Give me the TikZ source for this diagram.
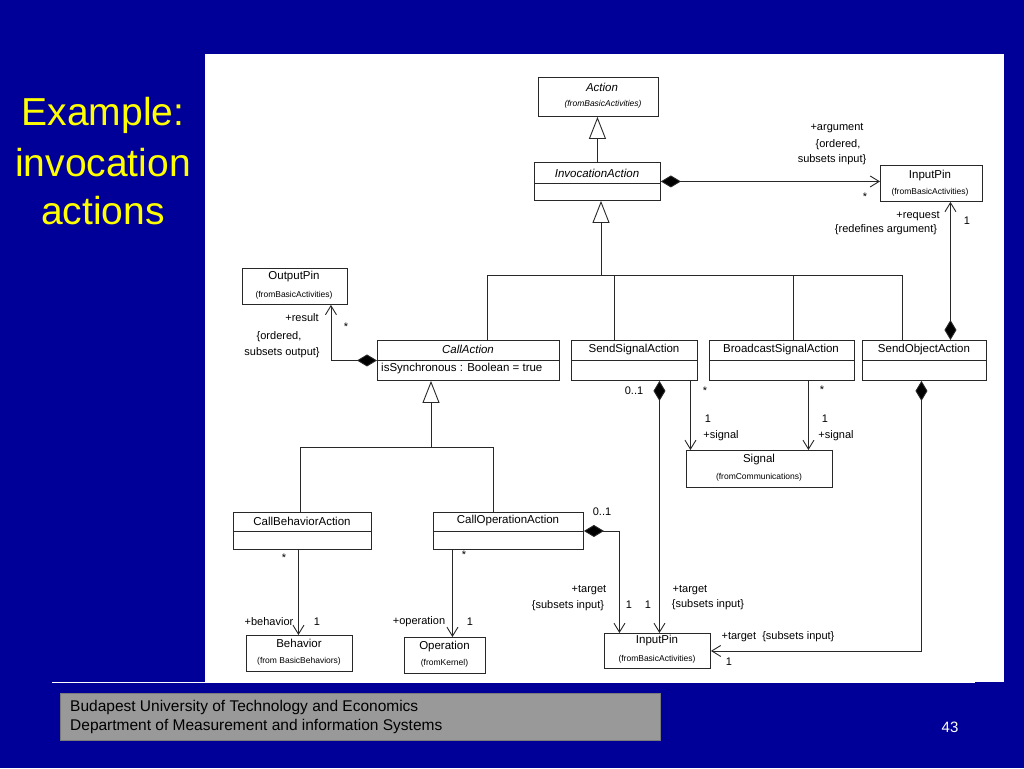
\documentclass[tikz,border=0pt]{standalone}
\usepackage{fontspec}
\setmainfont{Liberation Sans}
\usetikzlibrary{arrows.meta,calc}
\definecolor{slideblue}{RGB}{0,0,153}
\definecolor{titleyellow}{RGB}{255,255,0}
\definecolor{footgrey}{RGB}{153,153,153}
\definecolor{umlline}{RGB}{40,40,40}
\begin{document}
\begin{tikzpicture}[x=1pt,y=-1pt,
  box/.style={draw=umlline, line width=0.9pt, fill=white, inner sep=0pt, anchor=north west},
  conn/.style={draw=umlline, line width=0.9pt},
  gen/.style={conn, -{Triangle[open, length=22pt, width=17pt, fill=white]}},
  comp/.style={conn, {Diamond[length=20pt, width=12pt, fill=black]}-{Straight Barb[length=9pt, width=11pt]}},
  nav/.style={conn, -{Straight Barb[length=9pt, width=11pt]}},
  lbl/.style={inner sep=0pt, text=black, font=\fontsize{11}{13}\selectfont},
  cname/.style={inner sep=0pt, text=black, font=\fontsize{11.5}{13}\selectfont},
  iname/.style={inner sep=0pt, text=black, font=\fontsize{11.5}{13}\selectfont\itshape},
  small/.style={inner sep=0pt, text=black, font=\fontsize{8.5}{10}\selectfont},
  ismall/.style={inner sep=0pt, text=black, font=\fontsize{8.5}{10}\selectfont\itshape},
  title/.style={inner sep=0pt, text=titleyellow, font=\fontsize{39}{46}\selectfont},
  foot/.style={inner sep=0pt, text=black, anchor=west, font=\fontsize{15.5}{18}\selectfont}
]
\useasboundingbox (0,0) rectangle (1024,768);
\fill[slideblue] (0,0) rectangle (1024,768);
% diagram area
\fill[white] (205,54) rectangle (1004,682);
\draw[white, line width=1.5pt] (52,682.5) -- (975,682.5);

% title
\node[title] (t1) at (103,115) {Example:};
\node[title] (t2) at (103,163) {invocation};
\node[title] (t3) at (103,211) {actions};

% footer
\node[draw=footgrey!80!black, fill=footgrey, line width=0.6pt, anchor=north west, minimum width=600pt, minimum height=47pt, inner sep=0pt] (footbox) at (60,693) {};
\node[foot] (f1) at (70,707) {Budapest University of Technology and Economics};
\node[foot] (f2) at (70,726) {Department of Measurement and information Systems};
\node[inner sep=0pt, text=white, font=\fontsize{15}{17}\selectfont] (pg) at (950,727) {43};

% ---- classes ----
\node[box, minimum width=120pt, minimum height=39pt] (action) at (538,77) {};
\node[iname] (actionN) at (602,87) {Action};
\node[ismall] (actionF) at (603,104) {(fromBasicActivities)};

\node[box, minimum width=126pt, minimum height=38pt] (invoc) at (534,162) {};
\draw[conn] ($(invoc.north west)+(0,21)$) -- ($(invoc.north east)+(0,21)$);
\node[iname] (invocN) at (597,173) {InvocationAction};

\node[box, minimum width=102pt, minimum height=36pt] (inpinA) at (880,165) {};
\node[cname] (inpinAN) at (930,176) {InputPin};
\node[small] (inpinAF) at (930,192) {(fromBasicActivities)};

\node[box, minimum width=105pt, minimum height=36pt] (outpin) at (242,268) {};
\node[cname] (outpinN) at (294,277) {OutputPin};
\node[small] (outpinF) at (294,295) {(fromBasicActivities)};

\node[box, minimum width=182pt, minimum height=40pt] (callact) at (377,340) {};
\draw[conn] ($(callact.north west)+(0,20)$) -- ($(callact.north east)+(0,20)$);
\node[iname] (callactN) at (468,349) {CallAction};
\node[lbl, anchor=west, font=\fontsize{11.5}{13}\selectfont] (callactA) at (381,369) {isSynchronous : Boolean = true};

\node[box, minimum width=126pt, minimum height=40pt] (sendsig) at (571,340) {};
\draw[conn] ($(sendsig.north west)+(0,20)$) -- ($(sendsig.north east)+(0,20)$);
\node[cname] (sendsigN) at (634,350) {SendSignalAction};

\node[box, minimum width=145pt, minimum height=40pt] (bsig) at (709,340) {};
\draw[conn] ($(bsig.north west)+(0,20)$) -- ($(bsig.north east)+(0,20)$);
\node[cname] (bsigN) at (781,350) {BroadcastSignalAction};

\node[box, minimum width=124pt, minimum height=40pt] (sendobj) at (862,340) {};
\draw[conn] ($(sendobj.north west)+(0,20)$) -- ($(sendobj.north east)+(0,20)$);
\node[cname] (sendobjN) at (924,350) {SendObjectAction};

\node[box, minimum width=146pt, minimum height=37pt] (signal) at (686,450) {};
\node[cname] (signalN) at (759,460) {Signal};
\node[small] (signalF) at (759,477) {(fromCommunications)};

\node[box, minimum width=138pt, minimum height=37pt] (cba) at (233,512) {};
\draw[conn] ($(cba.north west)+(0,19)$) -- ($(cba.north east)+(0,19)$);
\node[cname] (cbaN) at (302,521) {CallBehaviorAction};

\node[box, minimum width=150pt, minimum height=37pt] (coa) at (433,512) {};
\draw[conn] ($(coa.north west)+(0,19)$) -- ($(coa.north east)+(0,19)$);
\node[cname] (coaN) at (508,521) {CallOperationAction};

\node[box, minimum width=106pt, minimum height=36pt] (behav) at (246,635) {};
\node[cname] (behavN) at (299,643) {Behavior};
\node[small] (behavF) at (299,661) {(from BasicBehaviors)};

\node[box, minimum width=81pt, minimum height=36pt] (oper) at (404,637) {};
\node[cname] (operN) at (444.5,647) {Operation};
\node[small] (operF) at (444.5,663) {(fromKernel)};

\node[box, minimum width=106pt, minimum height=35pt] (inpinB) at (604,633) {};
\node[cname] (inpinBN) at (657,641) {InputPin};
\node[small] (inpinBF) at (657,659) {(fromBasicActivities)};

% ---- connectors ----
% Action <- InvocationAction
\draw[gen] (invoc.north) -- (invoc.north |- action.south);
% InvocationAction -> InputPin (argument)
\draw[comp] (invoc.east) -- (invoc.east -| inpinA.west);
\node[lbl] (argA) at (837,128) {+argument};
\node[lbl] (argB) at (838,145) {\{ordered,};
\node[lbl] (argC) at (832,160) {subsets input\}};
\node[lbl] (argD) at (865,197) {*};
% SendObjectAction -> InputPin (request)
\draw[comp] ([xshift=26pt]sendobj.north) -- ([xshift=26pt]sendobj.north |- inpinA.south);
\node[lbl] (reqA) at (918,216) {+request};
\node[lbl] (reqB) at (886,230) {\{redefines argument\}};
\node[lbl] (reqC) at (967,221) {1};

% generalization tree under InvocationAction
\coordinate (gt) at (601,275);
\coordinate (g1) at (487,275);
\coordinate (g2) at (614,275);
\coordinate (g3) at (793,275);
\coordinate (g4) at (902,275);
\draw[gen] (gt) -- (gt |- invoc.south);
\draw[conn] (g1) -- (g4);
\draw[conn] (g1) -- (g1 |- callact.north);
\draw[conn] (g2) -- (g2 |- sendsig.north);
\draw[conn] (g3) -- (g3 |- bsig.north);
\draw[conn] (g4) -- (g4 |- sendobj.north);

% CallAction -> OutputPin (result)
\draw[comp] (callact.west) -| ([xshift=36pt]outpin.south);
\node[lbl] (resA) at (302,318) {+result};
\node[lbl] (resB) at (346,327) {*};
\node[lbl] (resC) at (279,337) {\{ordered,};
\node[lbl] (resD) at (282,353) {subsets output\}};

% SendSignalAction -> Signal
\draw[nav] ([xshift=56pt]sendsig.south) -- ([xshift=56pt]sendsig.south |- signal.north);
\node[lbl] (ssA) at (705,391) {*};
\node[lbl] (ssB) at (708,419) {1};
\node[lbl] (ssC) at (721,436) {+signal};
% BroadcastSignalAction -> Signal
\draw[nav] ([xshift=26.5pt]bsig.south) -- ([xshift=26.5pt]bsig.south |- signal.north);
\node[lbl] (bsA) at (822,390) {*};
\node[lbl] (bsB) at (825,419) {1};
\node[lbl] (bsC) at (836,436) {+signal};

% SendSignalAction -> InputPin (target)
\draw[comp] ([xshift=25pt]sendsig.south) -- ([xshift=25pt]sendsig.south |- inpinB.north);
\node[lbl] (stA) at (634,391) {0..1};
\node[lbl] (stB) at (690,590) {+target};
\node[lbl] (stC) at (708,605) {\{subsets input\}};
\node[lbl] (stD) at (648,605) {1};

% SendObjectAction -> InputPin (target)
\draw[comp] ([xshift=-3pt]sendobj.south) |- (inpinB.east);
\node[lbl] (otA) at (778,637) {+target\ \ \{subsets input\}};
\node[lbl] (otB) at (729,662) {1};

% generalization tree under CallAction
\coordinate (ct) at (431,447);
\coordinate (c1) at (300,447);
\coordinate (c2) at (493,447);
\draw[gen] (ct) -- (ct |- callact.south);
\draw[conn] (c1) -- (c2);
\draw[conn] (c1) -- (c1 |- cba.north);
\draw[conn] (c2) -- (c2 |- coa.north);

% CallBehaviorAction -> Behavior
\draw[nav] ([xshift=-1pt]behav.north |- cba.south) -- ([xshift=-1pt]behav.north);
\node[lbl] (cbA) at (284,558) {*};
\node[lbl] (cbB) at (269,622) {+behavior};
\node[lbl] (cbC) at (317,622) {1};

% CallOperationAction -> Operation
\draw[nav] ([xshift=7.5pt]oper.north |- coa.south) -- ([xshift=7.5pt]oper.north);
\node[lbl] (coA) at (464,555) {*};
\node[lbl] (coB) at (419,622) {+operation};
\node[lbl] (coC) at (470,622) {1};

% CallOperationAction -> InputPin (target)
\draw[comp] (coa.east) -| ([xshift=-38pt]inpinB.north);
\node[lbl] (ctA) at (602,512) {0..1};
\node[lbl] (ctB) at (589,590) {+target};
\node[lbl] (ctC) at (568,606) {\{subsets input\}};
\node[lbl] (ctD) at (629,605) {1};
\end{tikzpicture}
\end{document}
